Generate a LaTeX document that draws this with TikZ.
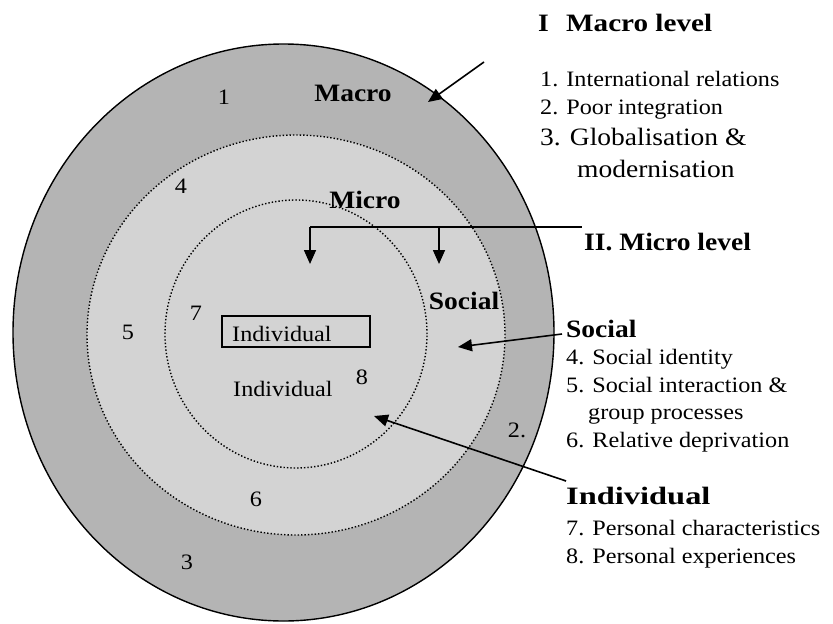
\documentclass[tikz,border=0pt]{standalone}
\usepackage{fontspec}
\setmainfont[FakeStretch=1.1]{Liberation Serif}
\usetikzlibrary{arrows.meta,shapes.geometric}
\definecolor{ringdark}{RGB}{180,180,180}
\definecolor{ringlight}{RGB}{211,211,211}
\begin{document}
\begin{tikzpicture}[x=1pt,y=-1pt,
  lbl/.style={anchor=base west, inner sep=0pt, font=\fontsize{22}{26}\selectfont},
  biglbl/.style={anchor=base west, inner sep=0pt, font=\fontsize{25}{29}\selectfont},
  hdr/.style={anchor=base west, inner sep=0pt, font=\fontsize{25}{29}\selectfont\bfseries},
  num/.style={anchor=base, inner sep=0pt, font=\fontsize{22}{26}\selectfont},
  inhdr/.style={anchor=base, inner sep=0pt, font=\fontsize{25}{29}\selectfont\bfseries},
  ring/.style={ellipse, inner sep=0pt, draw, line width=1.4pt, dash pattern=on 1.4pt off 2pt, fill=ringlight},
  ptr/.style={line width=1.6pt, -{Triangle[length=14pt,width=12pt]}}]
\useasboundingbox (0,0) rectangle (833,624);
\fill[white] (0,0) rectangle (833,624);
% rings
\node[ellipse, inner sep=0pt, draw, line width=1.4pt, fill=ringdark,
      minimum width=541pt, minimum height=577pt] (outer) at (283.5,332.5) {};
\node[ring, minimum width=418pt, minimum height=400pt] (middle) at (296,335) {};
\node[ring, minimum width=262pt, minimum height=268pt] (inner) at (296,334) {};
% labels inside the rings
\node[num] (n1) at (224,104) {1};
\node[inhdr] (macro) at (353,101) {Macro};
\node[num] (n4) at (181,193) {4};
\node[inhdr] (micro) at (365,208) {Micro};
\node[inhdr] (social) at (464,309) {Social};
\node[num] (n7) at (196,320) {7};
\node[num] (n5) at (128,339) {5};
\node[draw, line width=1.6pt, inner sep=0pt, minimum width=148pt, minimum height=31pt] (indbox) at (296,331.5) {};
\node[lbl] (indboxtxt) at (232,341) {Individual};
\node[lbl] (indtxt) at (233,396) {Individual};
\node[num] (n8) at (362,384) {8};
\node[num] (n2) at (517,437) {2.};
\node[num] (n6) at (256,506) {6};
\node[num] (n3) at (187,569) {3};
% right column
\node[hdr] (hI) at (538,31) {I};
\node[hdr] (hmacro) at (566,31) {\scalebox{1.06}[1]{Macro level}};
\node[lbl] (m1) at (540,86) {1. International relations};
\node[lbl] (m2) at (540,114) {2. Poor integration};
\node[biglbl] (m3) at (540,145) {3. Globalisation \&};
\node[biglbl] (m3b) at (577,177) {modernisation};
\node[hdr] (hmicro) at (584,250) {II. Micro level};
\node[hdr] (hsocial) at (566,337) {Social};
\node[lbl] (s4) at (566,364) {4. Social identity};
\node[lbl] (s5) at (566,392) {5. Social interaction \&};
\node[lbl] (s5b) at (588,419) {group processes};
\node[lbl] (s6) at (566,447) {6. Relative deprivation};
\node[hdr] (hind) at (566,504) {\scalebox{1.18}[1]{Individual}};
\node[lbl] (i7) at (566,535) {7. Personal characteristics};
\node[lbl] (i8) at (566,563) {8. Personal experiences};
% connectors
\coordinate (macroFrom) at (484,62);
\coordinate (macroTo) at (428,102);
\draw[ptr] (macroFrom) -- (macroTo);
\coordinate (barL) at (310,227);
\coordinate (barM) at (439,227);
\coordinate (barR) at (582,227);
\coordinate (dropL) at (310,264);
\coordinate (dropM) at (439,264);
\draw[line width=2.4pt] (barL) -- (barR);
\draw[ptr] (barL) -- (dropL);
\draw[ptr] (barM) -- (dropM);
\coordinate (socFrom) at (562,334);
\coordinate (socTo) at (458,347);
\draw[ptr] (socFrom) -- (socTo);
\coordinate (indFrom) at (566,481);
\coordinate (indTo) at (374,416);
\draw[ptr] (indFrom) -- (indTo);
\end{tikzpicture}
\end{document}
